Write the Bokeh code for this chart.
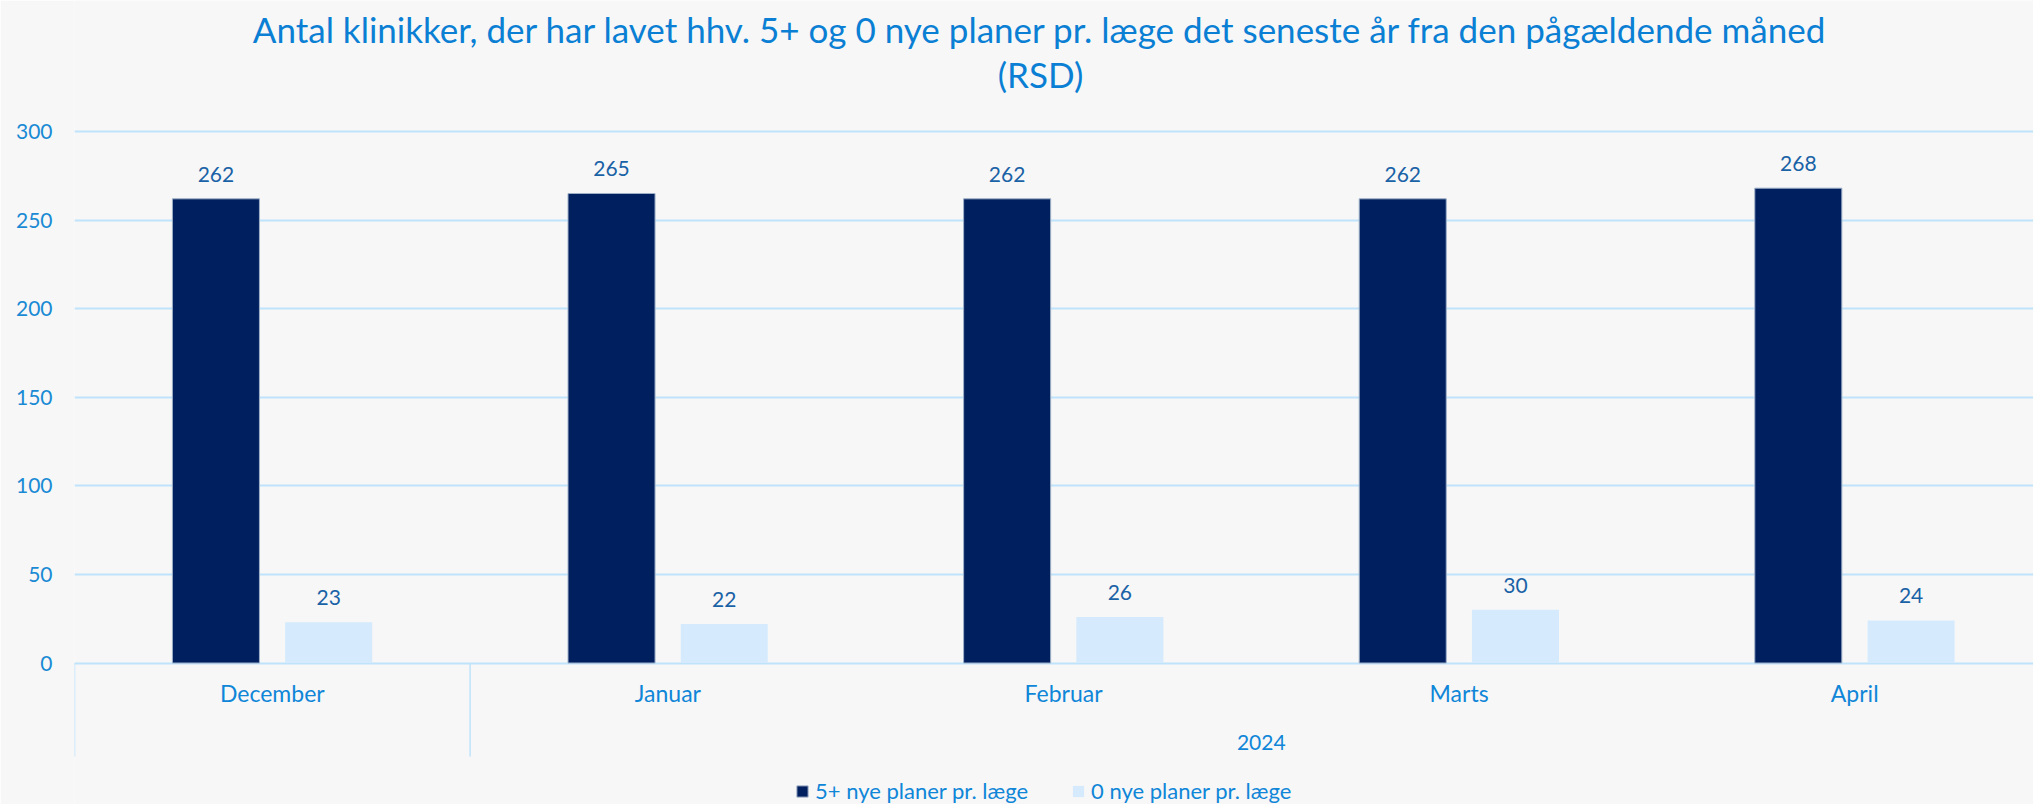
from bokeh.plotting import figure
from bokeh.models import ColumnDataSource, Range1d, FixedTicker, Legend, LegendItem
from bokeh.transform import dodge
from bokeh.core.properties import value
from bokeh.embed import file_html
from bokeh.resources import INLINE

# ---------------- data ----------------
title_lines = [
    "Antal klinikker, der har lavet hhv. 5+ og 0 nye planer pr. læge det seneste år fra den pågældende måned",
    "(RSD)",
]
months = ["December", "Januar", "Februar", "Marts", "April"]
month_groups = ["", "2024", "2024", "2024", "2024"]
series_names = ["5+ nye planer pr. læge", "0 nye planer pr. læge"]
five_plus = [262, 265, 262, 262, 268]
zero_new = [23, 22, 26, 30, 24]
y_ticks = [0, 50, 100, 150, 200, 250, 300]

# ---------------- style / layout ----------------
BG = "#f7f7f7"
DARK = "#001f5e"
LIGHT = "#d5ebfd"
GRID = "#bfe3fb"
TITLE_C = "#0a7fd4"
TICK_C = "#1a8ad4"
MONTH_C = "#0f86d8"
VAL_C = "#1a62a6"
FONT = "Lato"

W, H = 2033, 804
X0, CAT_W = 74.0, 395.6  # page px of category 0 left edge, px per category
Y0, PX = 662.5, 1.7717   # page px of value 0, px per value unit


def ux(px):
    return (px - X0) / CAT_W


def uy(py):
    return (Y0 - py) / PX


DODGE = 0.1425
BAR_W = 0.22

p = figure(
    width=W, height=H,
    x_range=Range1d(0, ux(W)),
    y_range=Range1d(uy(H), uy(0)),
    output_backend="svg", toolbar_location=None, x_axis_location=None,
    min_border_left=int(X0), min_border_right=0, min_border_top=0, min_border_bottom=0,
    background_fill_color=BG, border_fill_color=BG, outline_line_color=None,
)

p.yaxis.ticker = FixedTicker(ticks=y_ticks)
p.ygrid.ticker = p.yaxis.ticker
p.ygrid.grid_line_color = GRID
p.ygrid.grid_line_width = 2
p.xgrid.visible = False
p.yaxis.axis_line_color = None
p.yaxis.major_tick_line_color = None
p.yaxis.minor_tick_line_color = None
p.yaxis.major_tick_out = 0
p.yaxis.major_tick_in = 0
p.yaxis.major_label_standoff = 22
p.yaxis.major_label_text_font = FONT
p.yaxis.major_label_text_font_size = "21px"
p.yaxis.major_label_text_color = TICK_C

xs = [i + 0.5 for i in range(len(months))]
lab_off = 24.5 / PX
src = ColumnDataSource(dict(
    x=xs, month=months,
    five=five_plus, zero=zero_new,
    five_ly=[v + lab_off for v in five_plus],
    zero_ly=[v + lab_off for v in zero_new],
    five_t=[str(v) for v in five_plus],
    zero_t=[str(v) for v in zero_new],
))

r1 = p.vbar(x=dodge("x", -DODGE), top="five", bottom=0, width=BAR_W, source=src,
            fill_color=DARK, line_color="#9eb0c8", line_width=1)
r2 = p.vbar(x=dodge("x", DODGE), top="zero", bottom=0, width=BAR_W, source=src,
            fill_color=LIGHT, line_color=None)

common = dict(text_font=value(FONT), text_font_size="21px", text_align="center",
              text_baseline="alphabetic")
p.text(x=dodge("x", -DODGE), y="five_ly", text="five_t", source=src, text_color=VAL_C, **common)
p.text(x=dodge("x", DODGE), y="zero_ly", text="zero_t", source=src, text_color=VAL_C, **common)

# category axis (multi-level) drawn in data space below the baseline
p.text(x="x", y=uy(692), text="month", source=src, text_color=MONTH_C,
       text_font=value(FONT), text_font_size="23px", text_align="center", text_baseline="alphabetic")

bounds = [0]
groups = []
start = 0
for i in range(1, len(month_groups) + 1):
    if i == len(month_groups) or month_groups[i] != month_groups[start]:
        groups.append((month_groups[start], start, i))
        bounds.append(i)
        start = i
p.segment(x0=bounds, y0=[0] * len(bounds), x1=bounds, y1=[uy(756)] * len(bounds),
          line_color=GRID, line_width=1.5)
g_x = [(a + b) / 2 for g, a, b in groups if g]
g_t = [g for g, a, b in groups if g]
p.text(x=g_x, y=[uy(741.5)] * len(g_x), text=g_t, text_color=MONTH_C,
       text_font=value(FONT), text_font_size="21px", text_align="center", text_baseline="alphabetic")

# title
tx = ux(1040)
p.text(x=[tx, tx], y=[uy(28), uy(73.5)], text=title_lines, text_color=TITLE_C,
       text_font=value(FONT), text_font_size="35px", text_align="center", text_baseline="alphabetic")

legend = Legend(
    items=[LegendItem(label=series_names[0], renderers=[r1]),
           LegendItem(label=series_names[1], renderers=[r2])],
    orientation="horizontal", location=(int(795 - X0), 0),
    glyph_width=14, glyph_height=14, label_standoff=6, spacing=0,
    label_width=int(1071 - 795 - 14 - 6), padding=0, margin=0,
    border_line_color=None, background_fill_alpha=0,
    label_text_font=FONT, label_text_font_size="22px", label_text_color=MONTH_C,
)
p.add_layout(legend, "center")

open("out.html", "w").write(file_html(p, INLINE))
